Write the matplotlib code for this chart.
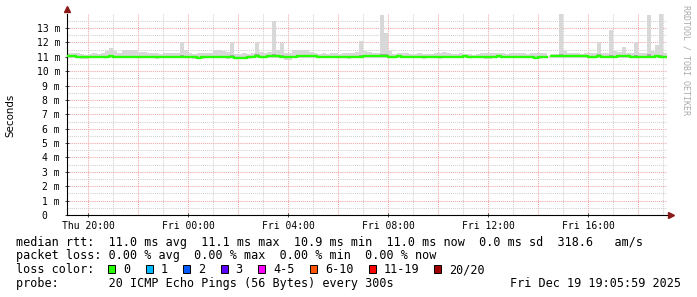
import numpy as np
import matplotlib
matplotlib.use("Agg")
import matplotlib.pyplot as plt
from matplotlib.patches import Rectangle

nan = np.nan

# median rtt per 10 minute bin (ms), Thu 19:10 -> Fri 19:10
median_ms = [
    11.04, 11.03, 11.00, 10.98, 10.98, 10.99, 11.00, 11.00, 11.01, 11.02, 11.03, 11.00,
    11.00, 10.99, 11.00, 11.01, 11.00, 11.00, 10.99, 11.00, 11.00, 10.98, 11.00, 11.00,
    11.00, 11.01, 11.00, 11.02, 11.00, 11.00, 10.99, 10.95, 10.99, 11.00, 11.00, 11.00,
    11.00, 11.00, 10.98, 11.02, 10.93, 10.95, 10.93, 10.97, 11.00, 11.05, 11.00, 11.02,
    11.06, 11.08, 11.03, 11.00, 10.98, 10.97, 11.00, 11.05, 11.04, 11.06, 11.05, 11.06,
    11.00, 11.00, 11.00, 11.00, 11.00, 11.00, 11.00, 10.99, 11.00, 11.00, 11.00, 11.04,
    11.06, 11.07, 11.07, 11.08, 11.05, 11.00, 11.00, 11.06, 11.00, 11.00, 11.00, 11.00,
    11.00, 10.99, 11.00, 11.00, 11.00, 10.96, 11.00, 11.00, 11.00, 11.00, 11.00, 11.05,
    11.00, 11.00, 11.00, 11.00, 10.99, 10.97, 11.00, 11.05, 11.00, 11.00, 11.00, 11.00,
    11.00, 11.00, 11.00, 11.00, 10.95, 10.96, 11.00, nan, 11.05, 11.05, 11.06, 11.06,
    11.06, 11.05, 11.05, 11.04, 11.05, 11.00, 11.00, 11.05, 11.00, 11.00, 11.00, 11.02,
    11.03, 11.04, 11.03, 11.00, 11.00, 11.00, 11.00, 11.02, 11.00, 11.05, 11.00, 11.00,
]

# highest ping of each bin (top of the smoke)
smoke_top_ms = [
    11.30, 11.30, 11.25, 11.20, 11.15, 11.20, 11.25, 11.20, 11.30, 11.40, 11.60, 11.40,
    11.25, 11.45, 11.50, 11.50, 11.45, 11.35, 11.35, 11.30, 11.30, 11.25, 11.20, 11.25,
    11.30, 11.30, 11.25, 12.00, 11.50, 11.25, 11.20, 11.30, 11.25, 11.30, 11.25, 11.45,
    11.45, 11.40, 11.35, 12.00, 11.20, 11.20, 11.25, 11.20, 11.25, 12.00, 11.35, 11.30,
    11.35, 13.50, 11.50, 11.95, 11.30, 11.25, 11.45, 11.50, 11.50, 11.45, 11.35, 11.25,
    11.20, 11.25, 11.20, 11.25, 11.30, 11.20, 11.25, 11.30, 11.25, 11.35, 12.10, 11.40,
    11.35, 11.30, 11.25, 13.90, 12.65, 11.40, 11.20, 11.30, 11.30, 11.25, 11.20, 11.20,
    11.25, 11.20, 11.20, 11.20, 11.25, 11.30, 11.35, 11.30, 11.20, 11.20, 11.25, 11.20,
    11.20, 11.15, 11.20, 11.30, 11.30, 11.25, 11.25, 11.30, 11.25, 11.20, 11.25, 11.30,
    11.30, 11.25, 11.20, 11.25, 11.25, 11.30, 11.30, nan, 11.20, 11.20, 14.00, 11.40,
    11.25, 11.30, 11.25, 11.20, 11.25, 11.30, 11.25, 12.00, 11.30, 11.25, 12.85, 11.40,
    11.35, 11.70, 11.30, 11.30, 12.00, 11.30, 11.25, 13.90, 11.40, 11.80, 14.00, 11.30,
]

# lowest ping of each bin (bottom of the smoke)
smoke_low_ms = [
    10.92, 10.92, 10.90, 10.88, 10.88, 10.90, 10.90, 10.90, 10.90, 10.90, 10.90, 10.90,
    10.90, 10.90, 10.90, 10.90, 10.90, 10.90, 10.90, 10.90, 10.90, 10.88, 10.90, 10.90,
    10.90, 10.90, 10.90, 10.90, 10.90, 10.90, 10.88, 10.85, 10.88, 10.90, 10.90, 10.90,
    10.90, 10.90, 10.88, 10.90, 10.85, 10.85, 10.85, 10.88, 10.90, 10.92, 10.90, 10.90,
    10.92, 10.92, 10.90, 10.90, 10.80, 10.80, 10.90, 10.92, 10.92, 10.92, 10.92, 10.92,
    10.90, 10.90, 10.90, 10.90, 10.90, 10.90, 10.90, 10.88, 10.90, 10.90, 10.90, 10.92,
    10.92, 10.92, 10.92, 10.92, 10.92, 10.90, 10.90, 10.92, 10.90, 10.90, 10.90, 10.90,
    10.90, 10.88, 10.90, 10.90, 10.90, 10.85, 10.90, 10.90, 10.90, 10.90, 10.90, 10.92,
    10.90, 10.90, 10.90, 10.90, 10.88, 10.86, 10.90, 10.92, 10.90, 10.90, 10.90, 10.90,
    10.90, 10.90, 10.90, 10.90, 10.85, 10.85, 10.90, nan, 10.92, 10.92, 10.92, 10.92,
    10.92, 10.92, 10.92, 10.92, 10.92, 10.90, 10.90, 10.92, 10.90, 10.90, 10.90, 10.90,
    10.92, 10.92, 10.92, 10.90, 10.90, 10.90, 10.90, 10.90, 10.90, 10.92, 10.90, 10.90,
]

x_tick_pos = [20, 24, 28, 32, 36, 40]   # hours since Thu 00:00
x_tick_labels = ["Thu 20:00", "Fri 00:00", "Fri 04:00", "Fri 08:00", "Fri 12:00", "Fri 16:00"]
y_tick_pos = list(range(14))
y_tick_labels = ["0  ", "1 m", "2 m", "3 m", "4 m", "5 m", "6 m", "7 m", "8 m", "9 m",
                 "10 m", "11 m", "12 m", "13 m"]

loss_labels = ["0", "1", "2", "3", "4-5", "6-10", "11-19", "20/20"]
loss_colors = ["#26ff00", "#00b8ff", "#0059ff", "#5e00ff", "#ff00ff", "#ff5500", "#ff0000", "#a10000"]

stats_line = "median rtt:  11.0 ms avg  11.1 ms max  10.9 ms min  11.0 ms now  0.0 ms sd  318.6   am/s"
loss_line = "packet loss: 0.00 % avg  0.00 % max  0.00 % min  0.00 % now"
probe_line = "probe:       20 ICMP Echo Pings (56 Bytes) every 300s"
stamp = "Fri Dec 19 19:05:59 2025"

W, H = 697, 297
MONO = "DejaVu Sans Mono"

med = np.array(median_ms)
top = np.array(smoke_top_ms)
low = np.array(smoke_low_ms)
step = 1 / 6
t = 19 + 10 / 60 + np.arange(len(med)) * step

fig = plt.figure(figsize=(W / 100, H / 100), dpi=100)
fig.patch.set_facecolor("white")
ax = fig.add_axes([67 / W, 1 - 215 / H, 600 / W, (215 - 13.7) / H])
ax.set_xlim(19.147, 43.147)
ax.set_ylim(0, 14)

# grid, rrdtool style
dot = (0, (1, 1))
for h in range(20, 44):
    c = "#f4a4a4" if h % 2 == 0 else "#cfcfcf"
    ax.axvline(h, color=c, lw=0.75, ls=dot, zorder=1)
for v in np.arange(0.5, 14, 0.5):
    c = "#f4a4a4" if v == int(v) else "#cfcfcf"
    ax.axhline(v, color=c, lw=0.75, ls=dot, zorder=1)

# smoke
ok = ~np.isnan(med)
ax.bar(t[ok], top[ok] - low[ok], bottom=low[ok], width=step, align="edge",
       color="#d8d8d8", linewidth=0, zorder=2)
dk_lo = (low + med) / 2
dk_hi = med + np.minimum(0.12 * (top - med), 0.15)
ax.bar(t[ok], dk_hi[ok] - dk_lo[ok], bottom=dk_lo[ok], width=step, align="edge",
       color="#a8a8a8", linewidth=0, zorder=3)

# median line
ax.step(np.append(t, t[-1] + step), np.append(med, med[-1]), where="post",
        color=loss_colors[0], lw=1.7, zorder=4)

for s in ["top", "right"]:
    ax.spines[s].set_visible(False)
for s in ["left", "bottom"]:
    ax.spines[s].set_color("black")
    ax.spines[s].set_linewidth(0.8)
ax.plot([0], [1.025], marker="^", ms=4.5, color="#8b1a1a", transform=ax.transAxes, clip_on=False)
ax.plot([1.006], [0], marker=">", ms=4.5, color="#8b1a1a", transform=ax.transAxes, clip_on=False)

ax.set_xticks(x_tick_pos)
ax.set_xticklabels(x_tick_labels, fontfamily=MONO, fontsize=7)
ax.set_yticks(y_tick_pos)
ax.set_yticklabels(y_tick_labels, fontfamily=MONO, fontsize=7)
ax.tick_params(axis="both", direction="inout", length=3, width=0.7, color="#444444")
ax.tick_params(axis="y", pad=3.5)
ax.tick_params(axis="x", pad=2.5)

fig.text(10 / W, 1 - 115 / H, "Seconds", rotation=90, ha="center", va="center",
         fontsize=7.4, fontfamily="DejaVu Sans")
fig.text(686 / W, 1 - 5 / H, "RRDTOOL / TOBI OETIKER", rotation=270, ha="center", va="top",
         fontsize=6, fontfamily=MONO, color="#aaaaaa")

# legend block
def line(x, y, s, **kw):
    fig.text(x / W, 1 - y / H, s, fontsize=8.45, fontfamily=MONO, va="baseline", **kw)

line(16, 245.7, stats_line)
line(16, 259.3, loss_line)
line(16, 273.3, "loss color:")
line(16, 287.3, probe_line)
line(681, 287.3, stamp, ha="right")

cw = 7.05
bx = 108
for lab, col in zip(loss_labels, loss_colors):
    fig.add_artist(Rectangle((bx / W, 1 - 273.3 / H), 7 / W, 8 / H, transform=fig.transFigure,
                             facecolor=col, edgecolor="black", linewidth=0.7))
    line(bx + 15, 273.3, lab)
    bx = bx + 15 + len(lab) * cw + 15.5

fig.savefig("out.png", dpi=100)
